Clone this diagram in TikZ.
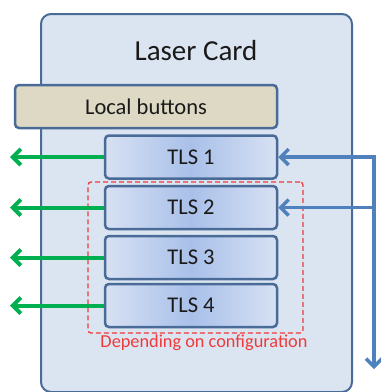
\documentclass[tikz,border=0pt]{standalone}
\usepackage{fontspec}
\setmainfont{Carlito}
\usetikzlibrary{arrows.meta}
\definecolor{cardfill}{HTML}{DBE5F1}
\definecolor{cardline}{HTML}{4A6B98}
\definecolor{btnfill}{HTML}{DDD9C4}
\definecolor{tlsedge}{HTML}{D7E1F3}
\definecolor{tlsmid}{HTML}{A9C0E9}
\definecolor{grn}{HTML}{00B050}
\definecolor{blu}{HTML}{4F81BD}
\definecolor{rd}{HTML}{F03A3A}
\definecolor{txt}{HTML}{1A1A1A}
\tikzset{
  card/.style={draw=cardline, line width=2pt, fill=cardfill, rounded corners=10pt, minimum width=311pt, minimum height=378pt, inner sep=0pt},
  btnbox/.style={draw=cardline, line width=2.5pt, fill=btnfill, rounded corners=4pt, minimum width=262pt, minimum height=43pt, inner sep=0pt, text=txt, font=\fontsize{22.5}{26}\selectfont},
  tlsbox/.style={draw=cardline, line width=2.5pt, left color=tlsedge, right color=tlsedge, middle color=tlsmid, rounded corners=4pt, minimum width=172pt, minimum height=43pt, inner sep=0pt, text=txt, font=\fontsize{22.5}{26}\selectfont},
  cfgbox/.style={draw=rd, line width=1.3pt, dash pattern=on 5pt off 3pt, rounded corners=3pt, minimum width=215pt, minimum height=151pt, inner sep=0pt},
  greenarrow/.style={draw=grn, line width=4pt, -{Straight Barb[length=8pt,width=16pt,line width=4pt]}},
  bluearrow/.style={draw=blu, line width=3.5pt},
}
\begin{document}
\begin{tikzpicture}[x=1pt,y=-1pt]
\useasboundingbox (0,0) rectangle (381,392);
\node[card] (card) at (196.5,203) {};
\node[text=txt, font=\fontsize{29}{34}\selectfont] (title) at (196,51) {Laser Card};
\node[btnbox] (btn) at (146,106.5) {Local buttons};
\node[cfgbox] (cfg) at (195.5,257.5) {};
\node[tlsbox] (t1) at (191,157) {TLS 1};
\node[tlsbox] (t2) at (191,207.5) {TLS 2};
\node[tlsbox] (t3) at (191,257.5) {TLS 3};
\node[tlsbox] (t4) at (191,305.5) {TLS 4};
\node[text=rd, font=\fontsize{18.3}{22}\selectfont] (cfglbl) at (204,343) {Depending on configuration};
\coordinate (g1) at (10,157);
\coordinate (g2) at (10,207.5);
\coordinate (g3) at (10,257.5);
\coordinate (g4) at (10,305.5);
\draw[greenarrow] (t1.west) -- (g1);
\draw[greenarrow] (t2.west) -- (g2);
\draw[greenarrow] (t3.west) -- (g3);
\draw[greenarrow] (t4.west) -- (g4);
\coordinate (r1) at (374,157);
\coordinate (r2) at (374,207.5);
\coordinate (rb) at (374,369);
\draw[bluearrow, {Straight Barb[length=8pt,width=16pt,line width=3.5pt]}-{Straight Barb[length=8pt,width=16pt,line width=3.5pt]}] (t1.east) -- (r1) -- (rb);
\draw[bluearrow, -{Straight Barb[length=8pt,width=16pt,line width=3.5pt]}] (r2) -- (t2.east);
\end{tikzpicture}
\end{document}
